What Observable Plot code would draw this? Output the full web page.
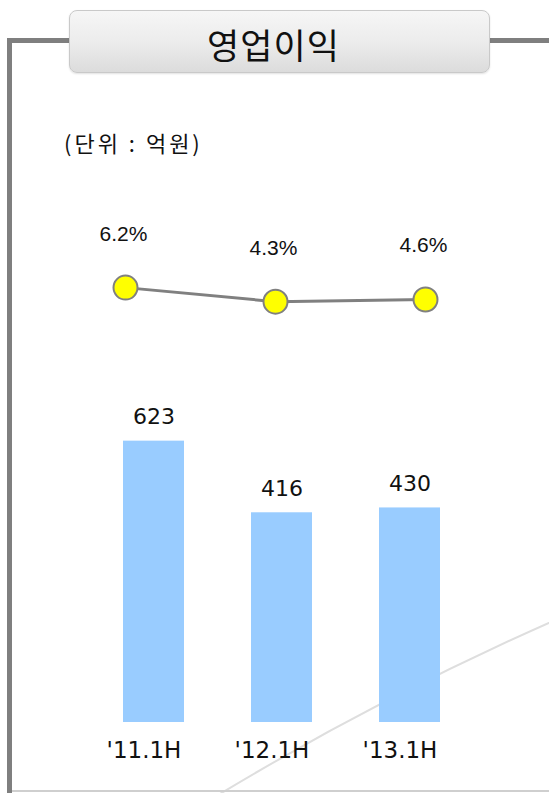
<!DOCTYPE html>
<html>
<head>
<meta charset="utf-8">
<script src="https://cdn.jsdelivr.net/npm/d3@7"></script>
<script src="https://cdn.jsdelivr.net/npm/@observablehq/plot@0.6"></script>
<style>
  html, body { margin: 0; padding: 0; background: #fff; }
  #page { position: relative; width: 549px; height: 793px; overflow: hidden; background: #fff; }
  .frame { position: absolute; background: #7f7f7f; }
  #swoosh { position: absolute; left: -1249px; top: 361px; width: 6054px; height: 6054px;
            border-radius: 50%; border: 2px solid #dedede; box-sizing: border-box; }
  #bottomline { position: absolute; left: 12px; right: 0; top: 790px; height: 2px; background: #cfcfcf; }
  #titlebox { position: absolute; left: 69px; top: 10px; width: 421px; height: 63px; box-sizing: border-box;
              border: 1px solid #c9c9c9; border-radius: 8px;
              background: linear-gradient(#f6f6f6, #ececec 50%, #dcdcdc);
              box-shadow: 0 1px 2px rgba(0,0,0,0.12);
              font-family: "Noto Sans CJK KR", sans-serif; font-size: 35px; letter-spacing: 1px; color: #111;
              display: flex; align-items: center; justify-content: center; padding: 4px 12px 0 0; }
  #unit { position: absolute; left: 64px; top: 126px; font-family: "Noto Sans CJK KR", sans-serif;
          font-size: 22px; color: #111; letter-spacing: 3px; white-space: pre; }
  #linechart { position: absolute; left: 0; top: 200px; }
  #barchart { position: absolute; left: 0; top: 380px; }
  svg { overflow: visible; }
</style>
</head>
<body>
<div id="page">
  <div id="swoosh"></div>
  <div id="bottomline"></div>
  <div class="frame" style="left:7px; top:38px; width:5px; height:760px;"></div>
  <div class="frame" style="left:7px; top:38px; width:64px; height:5px;"></div>
  <div class="frame" style="left:489px; top:38px; width:60px; height:5px;"></div>
  <div id="titlebox">영업이익</div>
  <div id="unit">(단위 : 억원)</div>
  <div id="linechart"></div>
  <div id="barchart"></div>
</div>
<script>
const categories = ["'11.1H", "'12.1H", "'13.1H"];
const profit = [623, 416, 430];           // 영업이익 (억원)
const margin = [6.2, 4.3, 4.6];           // 영업이익률 (%)
const marginLabels = ["6.2%", "4.3%", "4.6%"];

const lineData = categories.map((c, i) => ({cat: c, v: margin[i], label: marginLabels[i]}));
const barData = categories.map((c, i) => ({cat: c, v: profit[i]}));

const barBase = -190;

const linePlot = Plot.plot({
  width: 549, height: 140,
  marginLeft: 124, marginRight: 124, marginTop: 59, marginBottom: 7,
  x: {type: "point", domain: categories, padding: 0, axis: null},
  y: {domain: [0, 10], axis: null},
  marks: [
    Plot.line(lineData, {x: "cat", y: "v", stroke: "#808080", strokeWidth: 3}),
    Plot.dot(lineData, {x: "cat", y: "v", r: 12, fill: "#ffff00", stroke: "#808080", strokeWidth: 2}),
    Plot.text(lineData, {x: "cat", y: "v", text: "label", dy: -47, dx: -2, lineAnchor: "bottom",
      fontSize: 21, fontFamily: "'Liberation Sans', Arial, sans-serif", fill: "#111"})
  ]
});
document.getElementById("linechart").appendChild(linePlot);

const barPlot = Plot.plot({
  width: 549, height: 400,
  marginLeft: 55, marginRight: 41, marginTop: 34, marginBottom: 58,
  x: {type: "band", domain: categories, padding: 0.525},
  y: {domain: [barBase, 700], axis: null},
  marks: [
    Plot.barY(barData, {x: "cat", y1: barBase, y2: "v", fill: "#99ccff"}),
    Plot.text(barData, {x: "cat", y: "v", text: d => String(d.v), dy: -17, lineAnchor: "bottom",
      fontSize: 22, fontFamily: "'DejaVu Sans', Verdana, sans-serif", fill: "#111",
      style: "letter-spacing:2px"}),
    Plot.axisX({tickSize: 0, tickPadding: 19, fontSize: 23, dx: -10,
      fontFamily: "'DejaVu Sans', Verdana, sans-serif", fill: "#111", label: null})
  ]
});
barPlot.style.fontFamily = "'DejaVu Sans', Verdana, sans-serif";
document.getElementById("barchart").appendChild(barPlot);
</script>
</body>
</html>
